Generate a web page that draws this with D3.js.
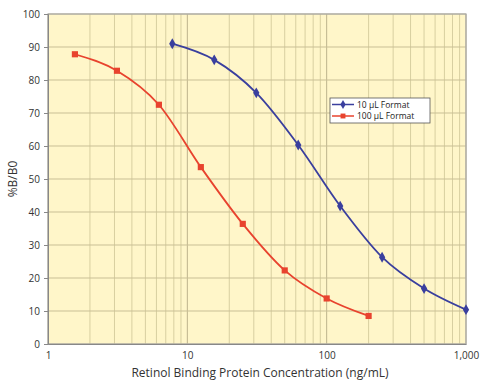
<!DOCTYPE html>
<html><head><meta charset="utf-8">
<script src="https://cdn.jsdelivr.net/npm/d3@7"></script>
<style>body{margin:0;background:#fff}svg{display:block;font-family:"Open Sans",sans-serif}</style>
</head><body><svg id="c" width="488" height="390"></svg>
<script>
const xTickValues = [1, 10, 100, 1000];
const yTickValues = [0,10,20,30,40,50,60,70,80,90,100];
const series1Name = "10 µL Format";
const series1X = [7.8, 15.6, 31.25, 62.5, 125, 250, 500, 1000];
const series1Y = [91, 86.1, 76.1, 60.3, 41.8, 26.3, 16.8, 10.4];
const series2Name = "100 µL Format";
const series2X = [1.56, 3.125, 6.25, 12.5, 25, 50, 100, 200];
const series2Y = [87.8, 82.8, 72.5, 53.6, 36.4, 22.3, 13.8, 8.5];
const xTitle = "Retinol Binding Protein Concentration (ng/mL)";
const yTitle = "%B/B0";

const svg = d3.select("#c");
const L=48, R=466, T=14, B=344;
const x = d3.scaleLog().domain([1,1000]).range([L,R]);
const y = d3.scaleLinear().domain([0,100]).range([B,T]);

svg.append("rect").attr("x",L).attr("y",T).attr("width",R-L).attr("height",B-T).attr("fill","#fff6c9");

const minor=[];
for(let d=1; d<1000; d*=10) for(let k=2;k<=9;k++) minor.push(d*k);
svg.append("g").selectAll("line").data(minor).join("line")
  .attr("x1",d=>x(d)).attr("x2",d=>x(d)).attr("y1",T).attr("y2",B)
  .attr("stroke","#d8cfa0").attr("stroke-width",1);
svg.append("g").selectAll("line").data(xTickValues).join("line")
  .attr("x1",d=>x(d)).attr("x2",d=>x(d)).attr("y1",T).attr("y2",B)
  .attr("stroke","#bdb38c").attr("stroke-width",1);
svg.append("g").selectAll("line").data(yTickValues).join("line")
  .attr("x1",L).attr("x2",R).attr("y1",d=>y(d)).attr("y2",d=>y(d))
  .attr("stroke","#c9bf95").attr("stroke-width",1);

svg.append("rect").attr("x",L).attr("y",T).attr("width",R-L).attr("height",B-T)
  .attr("fill","none").attr("stroke","#a9a9a9").attr("stroke-width",1.2);

const fmt = d3.format(",");
const gx = svg.append("g").attr("transform",`translate(0,${B})`)
  .call(d3.axisBottom(x).tickValues(xTickValues).tickFormat(fmt).tickSize(0).tickPadding(8));
gx.select(".domain").attr("stroke","#888");
gx.selectAll("text").attr("font-size",10).attr("fill","#333").attr("font-family","Open Sans");
const gy = svg.append("g").attr("transform",`translate(${L},0)`)
  .call(d3.axisLeft(y).tickValues(yTickValues).tickSize(4).tickPadding(4));
gy.select(".domain").attr("stroke","#888");
gy.selectAll("line").attr("stroke","#888");
gy.selectAll("text").attr("font-size",10).attr("fill","#333").attr("font-family","Open Sans");

svg.append("text").attr("x",(L+R)/2+3).attr("y",377).attr("text-anchor","middle")
  .attr("font-size",12).attr("fill","#333").text(xTitle);
svg.append("text").attr("transform",`translate(17,${(T+B)/2}) rotate(-90)`).attr("text-anchor","middle")
  .attr("font-size",12).attr("fill","#333").text(yTitle);

const line = d3.line().x(d=>x(d[0])).y(d=>y(d[1])).curve(d3.curveMonotoneX);
function draw(xs, ys, color, shape){
  const pts = xs.map((v,i)=>[v,ys[i]]);
  svg.append("path").datum(pts).attr("d",line).attr("fill","none").attr("stroke",color).attr("stroke-width",1.8);
  svg.append("g").selectAll("path").data(pts).join("path")
    .attr("transform",d=>`translate(${x(d[0])},${y(d[1])})`)
    .attr("d",d3.symbol().type(shape).size(shape===d3.symbolDiamond?34:38)())
    .attr("fill",color);
}
draw(series1X, series1Y, "#3a3f9e", d3.symbolDiamond);
draw(series2X, series2Y, "#e8432e", d3.symbolSquare);

const lg = svg.append("g").attr("transform","translate(330,98)");
lg.append("rect").attr("width",100).attr("height",25).attr("fill","#fff").attr("stroke","#555").attr("stroke-width",0.8);
[[series1Name,"#3a3f9e",d3.symbolDiamond],[series2Name,"#e8432e",d3.symbolSquare]].forEach((s,i)=>{
  const yy = 6.5+i*11.5;
  lg.append("line").attr("x1",2).attr("x2",24).attr("y1",yy).attr("y2",yy).attr("stroke",s[1]).attr("stroke-width",1.5);
  lg.append("path").attr("transform",`translate(13,${yy})`).attr("d",d3.symbol().type(s[2]).size(24)()).attr("fill",s[1]);
  lg.append("text").attr("x",27).attr("y",yy+3).attr("font-size",8.5).attr("fill","#222").text(s[0]);
});
</script></body></html>
